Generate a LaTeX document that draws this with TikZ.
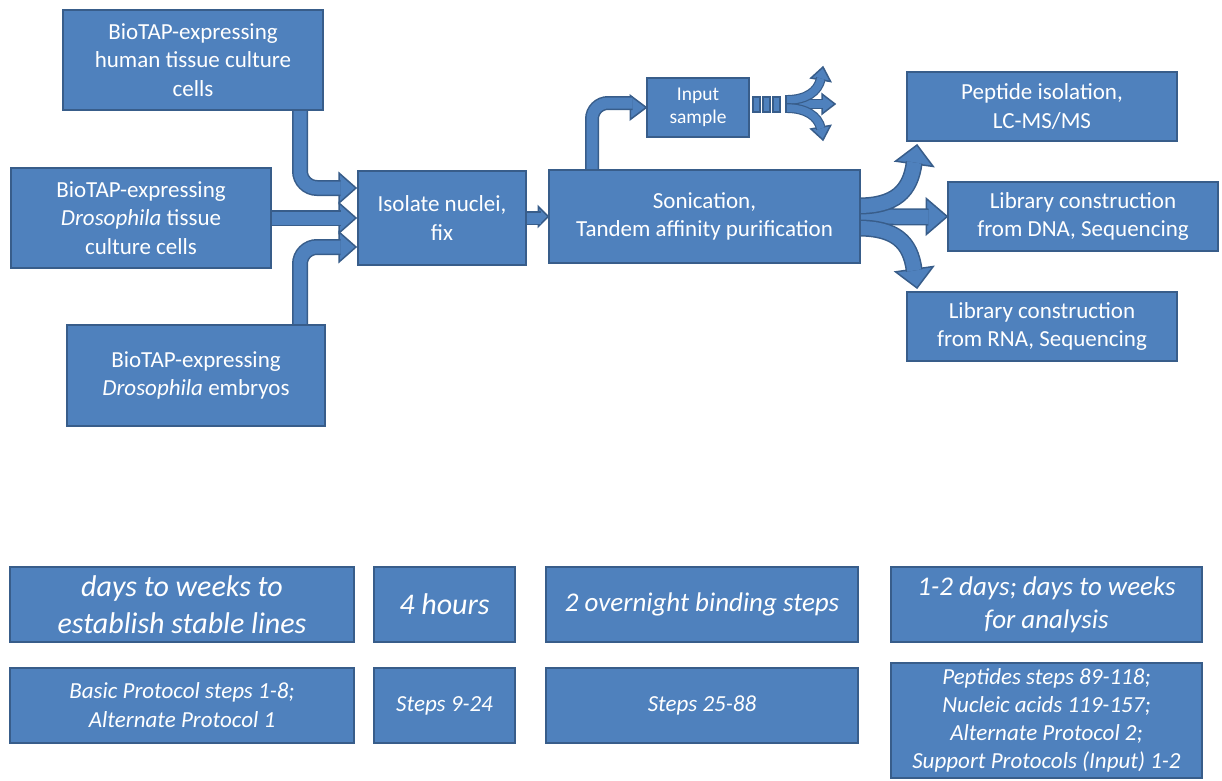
\documentclass[tikz,border=0pt]{standalone}
\usepackage{fontspec}
\setmainfont{Carlito}
\usetikzlibrary{calc,backgrounds}

\definecolor{boxblue}{HTML}{4F81BD}
\definecolor{edgeblue}{HTML}{385D8A}

\tikzset{
  box/.style={draw=edgeblue, fill=boxblue, line width=1.5pt, text=white,
    align=center, inner sep=0pt, font=\fontsize{23}{28.5}\selectfont},
  timebox/.style={box, minimum height=75pt, font=\itshape\fontsize{30}{37}\selectfont},
  stepbox/.style={box, minimum height=75pt, font=\itshape\fontsize{23}{29}\selectfont},
  shaft/.style={draw=edgeblue, line width=1.5pt, double=boxblue, double distance=13pt},
  thinshaft/.style={draw=edgeblue, line width=1.2pt, double=boxblue, double distance=7.5pt},
  head/.style={draw=edgeblue, fill=boxblue, line width=1.5pt, line join=miter},
}
% fat arrow head: tip, angle, length, half width
\newcommand{\fathead}[4]{\filldraw[head, shift={#1}, rotate=#2] (0,0) -- (-#3,#4) -- (-#3,-#4) -- cycle;}

\begin{document}
\begin{tikzpicture}[x=1pt, y=-1pt]
    \useasboundingbox (0,0) rectangle (1222,780);

    % 1. Source boxes
    \node[box, minimum width=260pt, minimum height=100pt] (human) at (193,60)
        {BioTAP-expressing\\human tissue culture\\cells};
    \node[box, minimum width=260pt, minimum height=100pt] (dcells) at (141,218)
        {BioTAP-expressing\\\textit{Drosophila} tissue\\culture cells};
    \node[box, minimum width=258pt, minimum height=101pt] (embryo) at (196,375.5)
        {BioTAP-expressing\\\textit{Drosophila} embryos};

    % 2. Main steps
    \node[box, minimum width=168pt, minimum height=94pt] (nuclei) at (442,218)
        {Isolate nuclei,\\fix};
    \node[box, minimum width=311pt, minimum height=93pt] (sonic) at (704.5,216.5)
        {Sonication,\\Tandem affinity purification};
    \node[box, minimum width=102pt, minimum height=59pt, font=\fontsize{19.5}{23}\selectfont]
        (input) at (698,107.5) {Input\\sample};

    % 3. Outputs
    \node[box, minimum width=270pt, minimum height=69pt] (peptide) at (1042,106.5)
        {Peptide isolation,\\LC-MS/MS};
    \node[box, minimum width=270pt, minimum height=69pt] (libdna) at (1083,216.5)
        {Library construction\\from DNA, Sequencing};
    \node[box, minimum width=270pt, minimum height=69pt] (librna) at (1042,326.5)
        {Library construction\\from RNA, Sequencing};

    % 4. Timing row
    \node[timebox, minimum width=344pt] (time1) at (182,604.5)
        {days to weeks to\\establish stable lines};
    \node[timebox, minimum width=141pt] (time2) at (444.5,604.5) {4 hours};
    \node[timebox, minimum width=312pt, font=\itshape\fontsize{27}{33}\selectfont]
        (time3) at (702,604.5) {2 overnight binding steps};
    \node[timebox, minimum width=311pt, font=\itshape\fontsize{27}{33}\selectfont]
        (time4) at (1046.5,604.5) {1-2 days; days to weeks\\for analysis};

    % 5. Protocol row
    \node[stepbox, minimum width=344pt] (steps1) at (182,705.5)
        {Basic Protocol steps 1-8;\\Alternate Protocol 1};
    \node[stepbox, minimum width=141pt] (steps2) at (444.5,705.5) {Steps 9-24};
    \node[stepbox, minimum width=312pt] (steps3) at (702,705.5) {Steps 25-88};
    \node[stepbox, minimum width=311pt, minimum height=115pt, font=\itshape\fontsize{23}{28}\selectfont]
        (steps4) at (1046.5,720.5)
        {Peptides steps 89-118;\\Nucleic acids 119-157;\\Alternate Protocol 2;\\Support Protocols (Input) 1-2};

    % 6. Fat arrows, behind the boxes
    \begin{scope}[on background layer]
        % into nuclei
        \fathead{(356,188)}{0}{17}{15}
        \fathead{(356,218)}{0}{17}{15}
        \fathead{(356,247)}{0}{17}{15}
        \draw[shaft, rounded corners=17pt] (human.south -| 300,0) |- (340.5,188);
        \draw[shaft] (dcells.east) -- (340.5,218);
        \draw[shaft, rounded corners=17pt] (embryo.north -| 300,0) |- (340.5,247);

        % nuclei to sonication
        \fathead{(sonic.west)}{0}{10}{10}
        \draw[shaft, double distance=11pt] (nuclei.east) -- (540.5,218);

        % sonication to input sample
        \fathead{(input.west)}{0}{16}{12}
        \draw[shaft, double distance=11pt, rounded corners=16pt]
            (sonic.north -| 592,0) |- (632.5,103);

        % sonication to outputs
        \fathead{(libdna.west)}{0}{21}{18}
        \fathead{(917,145)}{82}{19}{19}
        \fathead{(917,288)}{-82}{19}{19}
        \draw[shaft, double distance=14pt] (sonic.east) -- (928.5,217);
        \draw[shaft, double distance=14pt] (858,206) .. controls (895,206) and (910.5,191.5) .. (914.2,162.5);
        \draw[shaft, double distance=14pt] (858,228) .. controls (895,228) and (910.5,241.5) .. (914.2,270.5);
    \end{scope}

    % 7. Small striped fork after the input sample
    \foreach \x in {753,763,773}
        \filldraw[head, line width=1.2pt] (\x,97) rectangle ++(7,15);
    \fathead{(835,104)}{0}{13}{10}
    \fathead{(823,67)}{80}{13}{10}
    \fathead{(823,140)}{-80}{13}{10}
    \draw[thinshaft] (786,104) -- (823,104);
    \draw[thinshaft] (786,100) .. controls (806,100) and (818,92) .. (820.9,78.5);
    \draw[thinshaft] (786,108) .. controls (806,108) and (818,116) .. (820.9,128.5);
    \draw[edgeblue, line width=1.2pt] (786,95) -- (786,113);

\end{tikzpicture}
\end{document}
